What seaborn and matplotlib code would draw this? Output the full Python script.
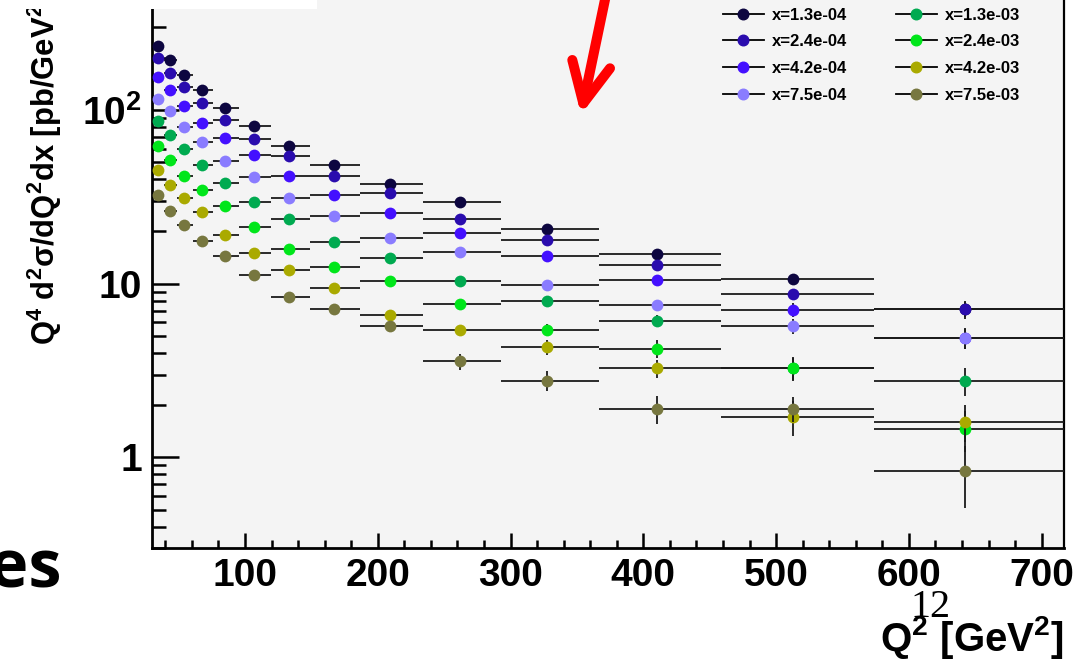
import math
import numpy as np
import pandas as pd
import matplotlib
matplotlib.use("Agg")
import matplotlib.pyplot as plt
import seaborn as sns
from matplotlib.lines import Line2D
from matplotlib.patches import Rectangle
from matplotlib.ticker import MultipleLocator, FixedLocator, LogLocator, NullFormatter, FixedFormatter

# ---------------- data ----------------
q2_center = [34.7, 43.4, 54.3, 68.0, 85.1, 106.6, 133.5, 167.0, 209.0, 261.7, 327.5, 410.0, 513.0, 642.0]
q2_low    = [31.0, 38.8, 48.6, 60.8, 76.1, 95.3, 119.3, 149.3, 186.9, 233.9, 292.8, 366.4, 458.6, 574.0]
q2_high   = [38.8, 48.6, 60.8, 76.1, 95.3, 119.3, 149.3, 186.9, 233.9, 292.8, 366.4, 458.6, 574.0, 718.0]

series_labels = ["x=1.3e-04", "x=2.4e-04", "x=4.2e-04", "x=7.5e-04",
                 "x=1.3e-03", "x=2.4e-03", "x=4.2e-03", "x=7.5e-03"]
series_colors = ["#0d0640", "#2a0cae", "#4410ff", "#8a7cff",
                 "#00aa50", "#00e61a", "#aaaa00", "#77773f"]

val_x13e4 = [234, 195, 160, 130, 102.7, 80.5, 62.5, 48.4, 37.5, 29.4, 20.7, 14.8, 10.6, 7.15]
val_x24e4 = [199, 164, 136, 110, 87.1, 68.1, 54.1, 41.5, 33.3, 23.7, 17.9, 12.9, 8.73, 7.15]
val_x42e4 = [156, 130, 106, 84.1, 69.0, 54.8, 41.5, 32.5, 25.7, 19.6, 14.5, 10.5, 7.09, 4.87]
val_x75e4 = [116, 98.2, 79.4, 65.5, 50.6, 41.1, 31.1, 24.7, 18.3, 15.3, 9.87, 7.57, 5.73, 4.87]
val_x13e3 = [87, 71.5, 59.9, 48.4, 38.0, 29.4, 23.7, 17.5, 14.1, 10.4, 7.91, 6.12, 3.27, 2.77]
val_x24e3 = [62.2, 51.8, 42.0, 34.8, 28.2, 21.1, 15.9, 12.5, 10.4, 7.67, 5.43, 4.23, 3.27, 1.46]
val_x42e3 = [44.9, 37.2, 31.1, 25.9, 19.2, 15.0, 12.0, 9.5, 6.63, 5.43, 4.30, 3.27, 1.72, 1.61]
val_x75e3 = [32.5, 26.1, 21.7, 17.7, 14.4, 11.2, 8.34, 7.18, 5.68, 3.57, 2.77, 1.91, 1.91, 0.838]

# relative vertical errors in percent
err_x13e4 = [3, 3, 3, 3, 3, 3, 3, 3, 3, 3, 4, 5, 6, 10]
err_x24e4 = [3, 3, 3, 3, 3, 3, 3, 3, 3, 3, 4, 5, 7, 12]
err_x42e4 = [3, 3, 3, 3, 3, 3, 3, 3, 3, 3, 4, 6, 9, 13]
err_x75e4 = [3, 3, 3, 3, 3, 3, 3, 3, 3, 3, 4, 7, 10, 14]
err_x13e3 = [3, 3, 3, 3, 3, 3, 3, 3, 3, 4, 5, 8, 15, 18]
err_x24e3 = [3, 3, 3, 3, 3, 3, 3, 3, 3, 4, 8, 12, 16, 26]
err_x42e3 = [3, 3, 3, 3, 3, 3, 3, 3, 4, 5, 10, 12, 23, 24]
err_x75e3 = [3, 3, 3, 3, 3, 3, 3, 3, 5, 11, 13, 18, 16, 39]

values = [val_x13e4, val_x24e4, val_x42e4, val_x75e4, val_x13e3, val_x24e3, val_x42e3, val_x75e3]
errors = [err_x13e4, err_x24e4, err_x42e4, err_x75e4, err_x13e3, err_x24e3, err_x42e3, err_x75e3]

x_ticks = [100, 200, 300, 400, 500, 600, 700]
y_ticks = [1, 10, 100]
y_ticklabels = ["1", "10", r"10$^{2}$"]

# ---------------- style ----------------
plt.rcParams["font.family"] = ["Liberation Sans", "DejaVu Sans"]
plt.rcParams["font.weight"] = "bold"
plt.rcParams["mathtext.fontset"] = "custom"
plt.rcParams["mathtext.rm"] = "Liberation Sans:bold"
plt.rcParams["mathtext.bf"] = "Liberation Sans:bold"
plt.rcParams["mathtext.it"] = "Liberation Sans:bold"
plt.rcParams["mathtext.sf"] = "Liberation Sans:bold"

W, H = 1081, 662
fig = plt.figure(figsize=(W / 100, H / 100), dpi=100)
fig.patch.set_facecolor("white")

L_px, R_px, B_px = 152.3, 1064.0, 548.3
ymin, ymax = 0.30, 500.0
decade_px = 173.7
top_px = B_px - (math.log10(ymax) - math.log10(ymin)) * decade_px
ax = fig.add_axes([L_px / W, (H - B_px) / H, (R_px - L_px) / W, (B_px - top_px) / H])
ax.set_facecolor("#f4f4f4")

# long-form frame
rows = []
for lab, vals, errs in zip(series_labels, values, errors):
    for xc, lo, hi, v, e in zip(q2_center, q2_low, q2_high, vals, errs):
        rows.append(dict(series=lab, q2=xc, lo=xc - lo, hi=hi - xc, val=v, err=v * e / 100.0))
df = pd.DataFrame(rows)

for lab, col in zip(series_labels, series_colors):
    d = df[df["series"] == lab]
    ax.errorbar(d["q2"], d["val"], xerr=[d["lo"], d["hi"]], yerr=d["err"],
                fmt="none", ecolor="#1a1a1a", elinewidth=1.3, capsize=0, zorder=3)
    sns.scatterplot(data=d, x="q2", y="val", color=col, s=72, linewidth=0,
                    ax=ax, zorder=3, legend=False)

ax.set_yscale("log")
ax.set_xlim(30.2, 716.8)
ax.set_ylim(ymin, ymax)
ax.set_xlabel("")
ax.set_ylabel("")

ax.xaxis.set_major_locator(FixedLocator(x_ticks))
ax.xaxis.set_minor_locator(MultipleLocator(20))
ax.yaxis.set_major_locator(FixedLocator(y_ticks))
ax.yaxis.set_major_formatter(FixedFormatter(y_ticklabels))
ax.yaxis.set_minor_locator(LogLocator(base=10, subs=range(2, 10)))
ax.yaxis.set_minor_formatter(NullFormatter())

ax.tick_params(axis="x", which="major", direction="in", length=11, width=1.8,
               labelsize=28, pad=7, top=False)
ax.tick_params(axis="x", which="minor", direction="in", length=5.8, width=1.8, top=False)
ax.tick_params(axis="y", which="major", direction="in", length=19.5, width=1.8,
               labelsize=28, pad=7.5, right=False)
ax.tick_params(axis="y", which="minor", direction="in", length=10, width=1.8, right=False)
for lbl in ax.get_xticklabels() + ax.get_yticklabels():
    lbl.set_fontweight("bold")

ax.spines["left"].set_linewidth(2.0)
ax.spines["bottom"].set_linewidth(2.0)
ax.spines["right"].set_linewidth(1.6)
ax.spines["top"].set_linewidth(1.6)

# legend
handles = [Line2D([], [], color="black", lw=1.3, marker="o", markersize=7.6,
                  markerfacecolor=c, markeredgecolor=c) for c in series_colors]
leg = ax.legend(handles, series_labels, ncol=2, frameon=False,
                loc="upper left", bbox_to_anchor=(722.7 / W, (H - 7.5) / H),
                bbox_transform=fig.transFigure, borderpad=0, borderaxespad=0,
                handlelength=2.46, handletextpad=0.5, columnspacing=2.9,
                labelspacing=0.7, prop=dict(family="Liberation Sans", weight="bold", size=12))

# axis titles
fig.text(45 / W, (H - 345) / H, r"Q$^{4}$ d$^{2}\sigma$/dQ$^{2}$dx [pb/GeV$^{2}$]",
         rotation=90, ha="center", va="bottom", fontsize=22.3, fontweight="bold")
fig.text(1064 / W, (H - 651) / H, r"Q$^{2}$ [GeV$^{2}$]", ha="right", va="baseline",
         fontsize=29, fontweight="bold")

# slide remnants
fig.text(911 / W, (H - 617) / H, "12", family="Liberation Serif", fontweight="normal",
         fontsize=29, ha="left", va="baseline")
fig.text(62 / W, (H - 588) / H, "es", family="Open Sans", fontweight="bold",
         fontsize=48, ha="right", va="baseline")

fig.add_artist(Rectangle((0, (H - 9) / H), 317 / W, 9 / H + 0.01, transform=fig.transFigure,
                         facecolor="white", edgecolor="none", zorder=10))

# red arrow
arrow_kw = dict(color="#ff0000", lw=7.2, solid_capstyle="round", solid_joinstyle="round",
                transform=fig.transFigure, zorder=11)
fig.add_artist(Line2D([607 / W, 583.3 / W], [(H + 10) / H, (H - 103.3) / H], **arrow_kw))
fig.add_artist(Line2D([572.3 / W, 583.3 / W, 610 / W],
                      [(H - 60) / H, (H - 103.3) / H, (H - 68.3) / H], **arrow_kw))

fig.savefig("out.png", dpi=100)
